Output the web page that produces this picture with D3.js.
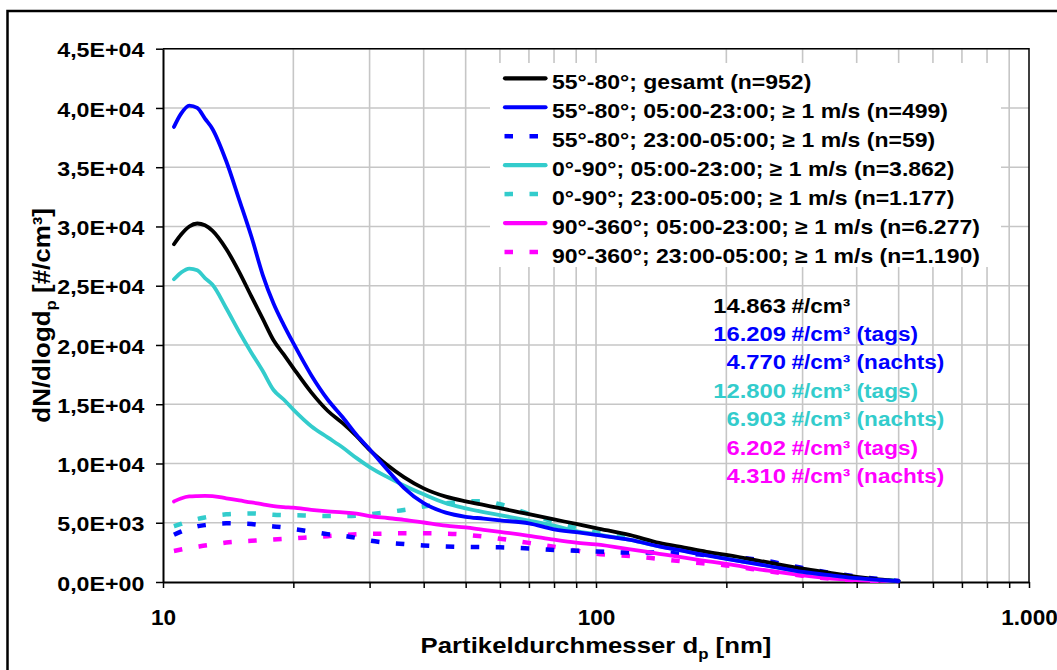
<!DOCTYPE html>
<html>
<head>
<meta charset="utf-8">
<script src="https://cdn.jsdelivr.net/npm/d3@7"></script>
<style>
  body { margin: 0; background: #fff; }
  svg text { font-family: "Liberation Sans", Arial, sans-serif; font-weight: bold; }
</style>
</head>
<body>
<div id="chart"></div>
<script>
// particle diameters (nm), shared by every series
var diameters = [10.6, 11, 11.5, 12, 12.5, 13, 14, 15, 16, 17, 18, 19, 20, 22, 24, 26, 28, 30, 33, 36,
	40, 45, 50, 55, 60, 70, 80, 90, 100, 120, 140, 160, 180, 200, 250, 300, 350, 400, 450, 500]

var gesamt5580 = [28500, 29300, 30000, 30250, 30100, 29650, 28100, 26150, 24100, 22200, 20400, 19200, 18050, 16000, 14450, 13400, 12300, 11150, 9850, 8850,
	7900, 7200, 6800, 6500, 6230, 5720, 5280, 4900, 4550, 3950, 3300, 2900, 2550, 2280, 1650, 1120, 750, 430, 220, 80]
var tag5580 = [38400, 39500, 40200, 40000, 39100, 38250, 35500, 32250, 29150, 25900, 23500, 21700, 20150, 17450, 15400, 13900, 12400, 11200, 9450, 7950,
	6650, 5850, 5500, 5350, 5200, 4950, 4450, 4200, 3970, 3550, 3000, 2600, 2250, 1950, 1350, 850, 550, 320, 180, 80]
var nacht5580 = [3980, 4250, 4500, 4700, 4800, 4880, 4950, 4930, 4890, 4780, 4690, 4600, 4470, 4250, 4040, 3900, 3720, 3500, 3310, 3200,
	3080, 3000, 2960, 2945, 2930, 2830, 2700, 2640, 2580, 2480, 2500, 2400, 2270, 2150, 1750, 1180, 760, 460, 250, 80]
var tag090 = [25550, 26100, 26450, 26300, 25650, 25100, 23100, 21100, 19350, 17800, 16200, 15400, 14550, 13150, 12200, 11350, 10450, 9700, 8850, 8150,
	7400, 6650, 6220, 5900, 5650, 5180, 4750, 4300, 4030, 3550, 3000, 2620, 2280, 1970, 1380, 860, 560, 330, 180, 80]
var nacht090 = [4700, 4900, 5150, 5320, 5450, 5560, 5710, 5770, 5790, 5740, 5670, 5640, 5630, 5600, 5570, 5570, 5600, 5720, 5900, 6080,
	6370, 6640, 6800, 6820, 6560, 5750, 5080, 4540, 4180, 3650, 3080, 2680, 2320, 2000, 1400, 880, 570, 340, 190, 80]
var tag90360 = [6800, 7050, 7220, 7250, 7260, 7250, 7060, 6880, 6720, 6550, 6400, 6320, 6270, 6090, 5960, 5870, 5760, 5560, 5400, 5250,
	5020, 4760, 4600, 4400, 4230, 3900, 3570, 3320, 3170, 2760, 2380, 2050, 1770, 1520, 950, 560, 290, 160, 110, 80]
var nacht90360 = [2620, 2740, 2880, 2980, 3080, 3160, 3330, 3420, 3480, 3530, 3580, 3630, 3680, 3780, 3870, 3960, 4030, 4060, 4090, 4110,
	4110, 4080, 3990, 3830, 3650, 3300, 2970, 2650, 2380, 2200, 1950, 1720, 1550, 1400, 900, 530, 280, 150, 100, 80]

var seriesNames = [
	'55°-80°; gesamt (n=952)',
	'55°-80°; 05:00-23:00; ≥ 1 m/s (n=499)',
	'55°-80°; 23:00-05:00; ≥ 1 m/s (n=59)',
	'0°-90°; 05:00-23:00; ≥ 1 m/s (n=3.862)',
	'0°-90°; 23:00-05:00; ≥ 1 m/s (n=1.177)',
	'90°-360°; 05:00-23:00; ≥ 1 m/s (n=6.277)',
	'90°-360°; 23:00-05:00; ≥ 1 m/s (n=1.190)'
]
var seriesValues = [gesamt5580, tag5580, nacht5580, tag090, nacht090, tag90360, nacht90360]
var seriesColors = ['#000000', '#0000ff', '#0000ff', '#33cccc', '#33cccc', '#ff00ff', '#ff00ff']
var seriesDashed = [false, false, true, false, true, false, true]

var statNumbers = ['14.863', '16.209', '4.770', '12.800', '6.903', '6.202', '4.310']
var statSuffix = ['#/cm³', '#/cm³ (tags)', '#/cm³ (nachts)', '#/cm³ (tags)', '#/cm³ (nachts)', '#/cm³ (tags)', '#/cm³ (nachts)']
var statColors = ['#000000', '#0000ff', '#0000ff', '#33cccc', '#33cccc', '#ff00ff', '#ff00ff']

var yTicks = [0, 5000, 10000, 15000, 20000, 25000, 30000, 35000, 40000, 45000]
var yTickLabels = ['0,0E+00', '5,0E+03', '1,0E+04', '1,5E+04', '2,0E+04', '2,5E+04', '3,0E+04', '3,5E+04', '4,0E+04', '4,5E+04']
var xTicks = [10, 20, 30, 40, 50, 60, 70, 80, 90, 100, 200, 300, 400, 500, 600, 700, 800, 900, 1000]
var xTickLabels = {10: '10', 100: '100', 1000: '1.000'}

makeChart('#chart')

function makeChart(div) {
	var width = 1057, height = 670
	var margin = { top: 48.7, left: 163, right: 28, bottom: 88 }
	var chartWidth = width - margin.left - margin.right
	var chartHeight = height - margin.top - margin.bottom

	var svg = d3.select(div).append('svg')
		.attr('width', width)
		.attr('height', height)

	// outer frame
	svg.append('rect')
		.attr('x', 7.5).attr('y', 11)
		.attr('width', 1070).attr('height', 700)
		.attr('fill', 'none').attr('stroke', '#000').attr('stroke-width', 2.5)

	var inner = svg.append('g')
		.attr('transform', 'translate(' + margin.left + ',' + margin.top + ')')

	var xScale = d3.scaleLog().domain([10, 1000]).range([0, chartWidth])
	var yScale = d3.scaleLinear().domain([0, 45000]).range([chartHeight, 0])

	// grid
	inner.append('g').selectAll('line.h')
		.data(yTicks.slice(1))
		.enter().append('line')
		.attr('x1', 0).attr('x2', chartWidth)
		.attr('y1', function(d) { return yScale(d) })
		.attr('y2', function(d) { return yScale(d) })
		.attr('stroke', '#c6c6c6').attr('stroke-width', 1.6)
	inner.append('g').selectAll('line.v')
		.data(xTicks.slice(1, -1))
		.enter().append('line')
		.attr('y1', 0).attr('y2', chartHeight)
		.attr('x1', function(d) { return xScale(d) })
		.attr('x2', function(d) { return xScale(d) })
		.attr('stroke', '#c6c6c6').attr('stroke-width', 1.6)

	// top and right border of the plot area
	inner.append('path')
		.attr('d', 'M0,0H' + chartWidth + 'V' + chartHeight)
		.attr('fill', 'none').attr('stroke', '#000').attr('stroke-width', 1.5)

	// legend background hides the grid
	inner.append('rect')
		.attr('x', 490 - margin.left).attr('y', 63 - margin.top)
		.attr('width', 511).attr('height', 204)
		.attr('fill', '#fff')

	// y axis
	var yAxis = inner.append('g')
		.call(d3.axisLeft(yScale).tickValues(yTicks).tickSize(7).tickSizeOuter(0)
			.tickFormat(function(d, i) { return yTickLabels[i] }))
	yAxis.select('.domain').attr('stroke-width', 2)
	yAxis.selectAll('.tick line').attr('stroke-width', 1.5)
	yAxis.selectAll('.tick text')
		.attr('x', 0).attr('dy', null)
		.attr('transform', 'translate(-18.7,8.2) scale(1.16,1)')
		.attr('font-size', 20).attr('fill', '#000')

	// x axis
	var xAxis = inner.append('g')
		.attr('transform', 'translate(0,' + chartHeight + ')')
		.call(d3.axisBottom(xScale).tickValues(xTicks).tickSize(6).tickSizeOuter(0)
			.tickFormat(function(d) { return xTickLabels[d] || '' }))
	xAxis.select('.domain').attr('stroke-width', 2)
	xAxis.selectAll('.tick line').attr('stroke-width', 1.5)
	xAxis.selectAll('.tick text')
		.attr('y', 0).attr('dy', null)
		.attr('transform', 'translate(0,43) scale(1.05,1)')
		.attr('font-size', 21.5).attr('fill', '#000')

	// curves
	var line = d3.line()
		.x(function(d) { return xScale(d[0]) })
		.y(function(d) { return yScale(d[1]) })
		.curve(d3.curveMonotoneX)

	var order = [6, 4, 2, 5, 3, 0, 1]
	order.forEach(function(i) {
		var pts = diameters.map(function(d, j) { return [d, seriesValues[i][j]] })
		inner.append('path')
			.datum(pts)
			.attr('d', line)
			.attr('fill', 'none')
			.attr('stroke', seriesColors[i])
			.attr('stroke-width', seriesDashed[i] ? 4.5 : 3.8)
			.attr('stroke-dasharray', seriesDashed[i] ? '8.5,16.5' : null)
			.attr('stroke-linejoin', 'round')
			.attr('stroke-linecap', seriesDashed[i] ? 'butt' : 'round')
	})

	// legend
	var legend = svg.append('g')
	seriesNames.forEach(function(name, i) {
		var ly = 78.3 + i * 28.95
		if (seriesDashed[i]) {
			legend.append('line')
				.attr('x1', 504.5).attr('x2', 547).attr('y1', ly).attr('y2', ly)
				.attr('stroke', seriesColors[i]).attr('stroke-width', 4.5)
				.attr('stroke-dasharray', '8.5,16.5')
		} else {
			legend.append('line')
				.attr('x1', 505).attr('x2', 545.5).attr('y1', ly).attr('y2', ly)
				.attr('stroke', seriesColors[i]).attr('stroke-width', 4.2)
				.attr('stroke-linecap', 'round')
		}
		legend.append('text')
			.attr('transform', 'translate(552,' + (ly + 11) + ') scale(1.15,1)')
			.attr('font-size', 20)
			.text(name)
	})

	// totals
	statNumbers.forEach(function(num, i) {
		var by = 312.5 + i * 28.4
		svg.append('text')
			.attr('transform', 'translate(786,' + by + ') scale(1.16,1)')
			.attr('text-anchor', 'end')
			.attr('font-size', 20.5).attr('fill', statColors[i])
			.text(num)
		svg.append('text')
			.attr('transform', 'translate(791.5,' + by + ') scale(1.1,1)')
			.attr('font-size', 20.5).attr('fill', statColors[i])
			.text(statSuffix[i])
	})

	// axis titles
	var xt = svg.append('text')
		.attr('transform', 'translate(' + (margin.left + xScale(100)) + ',653) scale(1.12,1)')
		.attr('text-anchor', 'middle')
		.attr('font-size', 23)
	xt.append('tspan').text('Partikeldurchmesser d')
	xt.append('tspan').attr('font-size', 15).attr('dy', 6).text('p')
	xt.append('tspan').attr('dy', -6).text(' [nm]')

	var yt = svg.append('text')
		.attr('transform', 'translate(50,' + (margin.top + chartHeight / 2) + ') rotate(-90) scale(1.08,1)')
		.attr('text-anchor', 'middle')
		.attr('font-size', 24)
	yt.append('tspan').text('dN/dlogd')
	yt.append('tspan').attr('font-size', 15.5).attr('dy', 6).text('p')
	yt.append('tspan').attr('dy', -6).text(' [#/cm³]')
}
</script>
</body>
</html>
